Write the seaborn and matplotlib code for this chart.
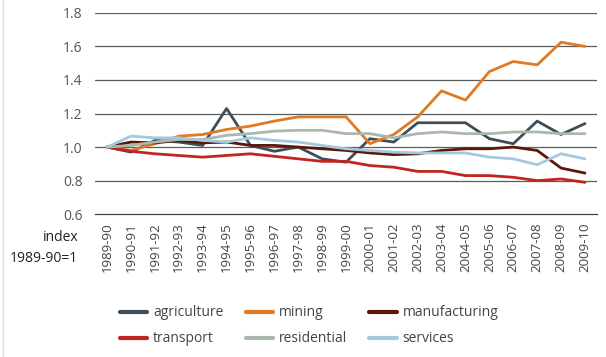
import pandas as pd
import matplotlib.pyplot as plt
import matplotlib.lines as mlines
import seaborn as sns

years = ['1989-90', '1990-91', '1991-92', '1992-93', '1993-94', '1994-95', '1995-96',
         '1996-97', '1997-98', '1998-99', '1999-00', '2000-01', '2001-02', '2002-03',
         '2003-04', '2004-05', '2005-06', '2006-07', '2007-08', '2008-09', '2009-10']

agriculture = [1.00, 0.97, 1.04, 1.03, 1.01, 1.23, 1.01, 0.975, 1.00, 0.93, 0.91,
               1.05, 1.03, 1.145, 1.145, 1.145, 1.05, 1.02, 1.155, 1.075, 1.14]
mining = [1.00, 0.98, 1.02, 1.065, 1.075, 1.105, 1.125, 1.155, 1.18, 1.18, 1.18,
          1.02, 1.075, 1.18, 1.335, 1.28, 1.45, 1.51, 1.49, 1.625, 1.60]
manufacturing = [1.00, 1.03, 1.025, 1.04, 1.025, 1.03, 1.01, 1.01, 1.00, 0.99, 0.98,
                 0.965, 0.955, 0.96, 0.98, 0.99, 0.99, 1.00, 0.98, 0.875, 0.845]
transport = [1.00, 0.975, 0.96, 0.95, 0.94, 0.95, 0.96, 0.945, 0.93, 0.915, 0.915,
             0.89, 0.88, 0.855, 0.855, 0.83, 0.83, 0.82, 0.80, 0.81, 0.79]
residential = [1.00, 1.01, 1.03, 1.045, 1.045, 1.07, 1.08, 1.095, 1.10, 1.10, 1.08,
               1.08, 1.055, 1.08, 1.09, 1.08, 1.08, 1.09, 1.09, 1.08, 1.08]
services = [1.00, 1.065, 1.055, 1.055, 1.04, 1.03, 1.055, 1.04, 1.03, 1.01, 0.99,
            0.98, 0.97, 0.965, 0.965, 0.965, 0.94, 0.93, 0.895, 0.96, 0.93]

sectors = ['agriculture', 'mining', 'manufacturing', 'transport', 'residential', 'services']
colours = ['#3e4d58', '#e07a22', '#5a1808', '#c0261f', '#aab8ab', '#a3c9e1']

series = [agriculture, mining, manufacturing, transport, residential, services]
rows = []
for name, vals in zip(sectors, series):
    for yr, v in zip(years, vals):
        rows.append({'year': yr, 'sector': name, 'index': v})
df = pd.DataFrame(rows)

sns.set_style('white')
plt.rcParams['font.family'] = ['Open Sans', 'DejaVu Sans']

fig = plt.figure(figsize=(6.06, 3.57), dpi=100)
ax = fig.add_axes([0.157, 0.40, 0.828, 0.564])

sns.lineplot(data=df, x='year', y='index', hue='sector', hue_order=sectors,
             palette=dict(zip(sectors, colours)), linewidth=2.0, ax=ax, legend=False,
             sort=False)

ax.set_xlim(-0.5, len(years) - 0.5)
ax.set_ylim(0.6, 1.8)
ax.set_yticks([0.6, 0.8, 1.0, 1.2, 1.4, 1.6, 1.8])
ax.set_yticklabels(['0.6', '0.8', '1.0', '1.2', '1.4', '1.6', '1.8'])
for yv in [0.8, 1.0, 1.2, 1.4, 1.6, 1.8]:
    ax.axhline(yv, color='#5c5c5c', lw=0.9, zorder=0)

for s in ['top', 'right', 'left']:
    ax.spines[s].set_visible(False)
ax.spines['bottom'].set_color('#444444')
ax.spines['bottom'].set_linewidth(0.9)

ax.set_xticks(range(len(years)))
ax.set_xticklabels(years, rotation=90, fontsize=9.5, color='#444444')
ax.set_xticks([i - 0.5 for i in range(len(years) + 1)], minor=True)
ax.tick_params(axis='x', which='major', length=0, pad=6)
ax.tick_params(axis='x', which='minor', length=5, direction='inout', color='#444444', width=0.9)
ax.tick_params(axis='y', length=0, labelsize=10, labelcolor='#555555', pad=9)
ax.set_xlabel('')
ax.set_ylabel('')

fig.text(0.129, 0.305, 'index\n1989-90=1', ha='right', va='center', fontsize=10,
         color='#222222', linespacing=1.5)

order = [0, 3, 1, 4, 2, 5]
handles = [mlines.Line2D([], [], color=colours[i], lw=3) for i in order]
labels = [sectors[i] for i in order]
fig.legend(handles, labels, ncol=3, loc='center', bbox_to_anchor=(0.51, 0.087),
           frameon=False, fontsize=10, handlelength=2.0, columnspacing=1.6,
           labelspacing=0.8, handletextpad=0.4, labelcolor='#444444')

fig.add_artist(mlines.Line2D([0.005, 0.005], [0.0, 1.0], color='#dddddd', lw=1))

fig.savefig('out.png', dpi=100)
